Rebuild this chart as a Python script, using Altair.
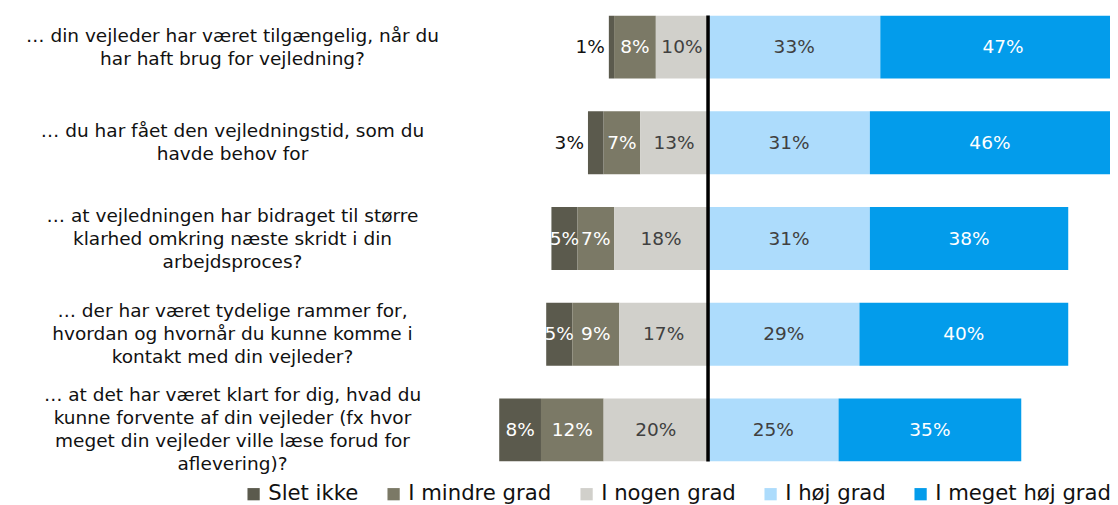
import altair as alt
import pandas as pd

questions = [
    "… din vejleder har været tilgængelig, når du\nhar haft brug for vejledning?",
    "… du har fået den vejledningstid, som du\nhavde behov for",
    "… at vejledningen har bidraget til større\nklarhed omkring næste skridt i din\narbejdsproces?",
    "… der har været tydelige rammer for,\nhvordan og hvornår du kunne komme i\nkontakt med din vejleder?",
    "… at det har været klart for dig, hvad du\nkunne forvente af din vejleder (fx hvor\nmeget din vejleder ville læse forud for\naflevering)?",
]
categories = ["Slet ikke", "I mindre grad", "I nogen grad", "I høj grad", "I meget høj grad"]
slet_ikke = [1, 3, 5, 5, 8]
i_mindre_grad = [8, 7, 7, 9, 12]
i_nogen_grad = [10, 13, 18, 17, 20]
i_hoej_grad = [33, 31, 31, 29, 25]
i_meget_hoej_grad = [47, 46, 38, 40, 35]
colors = ["#5b5a4d", "#7b7966", "#d1d0cb", "#addcfc", "#039ceb"]

rows = []
for i, q in enumerate(questions):
    s, m, n = slet_ikke[i], i_mindre_grad[i], i_nogen_grad[i]
    h, mh = i_hoej_grad[i], i_meget_hoej_grad[i]
    segs = [
        ("Slet ikke", -(n + m + s), -(n + m), s),
        ("I mindre grad", -(n + m), -n, m),
        ("I nogen grad", -n, 0, n),
        ("I høj grad", 0, h, h),
        ("I meget høj grad", h, h + mh, mh),
    ]
    for cat, a, b, v in segs:
        rows.append({"q": q, "cat": cat, "x": a, "x2": b, "mid": (a + b) / 2,
                     "v": v, "lab": f"{v}%"})
df = pd.DataFrame(rows)

FONT = "DejaVu Sans"
x_scale = alt.Scale(domain=[-41, 77], nice=False, zero=False)
y_enc = alt.Y(
    "q:N", sort=questions,
    scale=alt.Scale(paddingInner=0.342, paddingOuter=0),
    axis=alt.Axis(title=None, labelExpr="split(datum.label, '\\n')",
                  labelAlign="center", labelBaseline="middle",
                  labelOffset=alt.ExprRef(expr="-(length(split(datum.label, '\\n')) - 1) * 11.5"),
                  labelPadding=262, labelLineHeight=23, labelFontSize=18.5,
                  labelColor="#111111", labelFont=FONT, ticks=False,
                  tickSize=0, domain=False, labelLimit=0, grid=False),
)

base = alt.Chart(df)

bars = base.mark_bar(clip=True).encode(
    x=alt.X("x:Q", scale=x_scale, axis=None),
    x2="x2:Q",
    y=y_enc,
    color=alt.Color(
        "cat:N",
        scale=alt.Scale(domain=categories, range=colors),
        sort=categories,
        legend=alt.Legend(
            title=None, orient="none", legendX=-251, legendY=468,
            direction="horizontal", symbolType="square", symbolSize=150,
            labelFontSize=21.2, labelFont=FONT, labelColor="#111111",
            columnPadding=24, labelOffset=4, symbolStrokeWidth=0,
            labelLimit=0,
        ),
    ),
)

inside = base.transform_filter("datum.v >= 4").mark_text(
    font=FONT, fontSize=18.5, baseline="middle"
).encode(
    x=alt.X("mid:Q", scale=x_scale),
    y=alt.Y("q:N", sort=questions),
    text="lab:N",
    color=alt.condition(
        alt.FieldOneOfPredicate(field="cat", oneOf=["I nogen grad", "I høj grad"]),
        alt.value("#404040"), alt.value("white")),
)

outside = base.transform_filter("datum.v < 4").mark_text(
    font=FONT, fontSize=18.5, baseline="middle", align="right", dx=-4,
    color="#111111"
).encode(
    x=alt.X("x:Q", scale=x_scale),
    y=alt.Y("q:N", sort=questions),
    text="lab:N",
)

center = alt.Chart(pd.DataFrame({"z": [0]})).mark_rule(
    color="black", strokeWidth=3.5
).encode(x=alt.X("z:Q", scale=x_scale))

chart = alt.layer(bars, inside, outside, center).properties(
    width=616, height=446,
    padding={"left": 486, "top": 7.5, "right": 0, "bottom": 43},
    autosize="none",
).configure(font=FONT, background="white").configure_view(stroke=None, strokeWidth=0)

chart.save("out.html", embed_options={"renderer": "svg", "actions": False})
